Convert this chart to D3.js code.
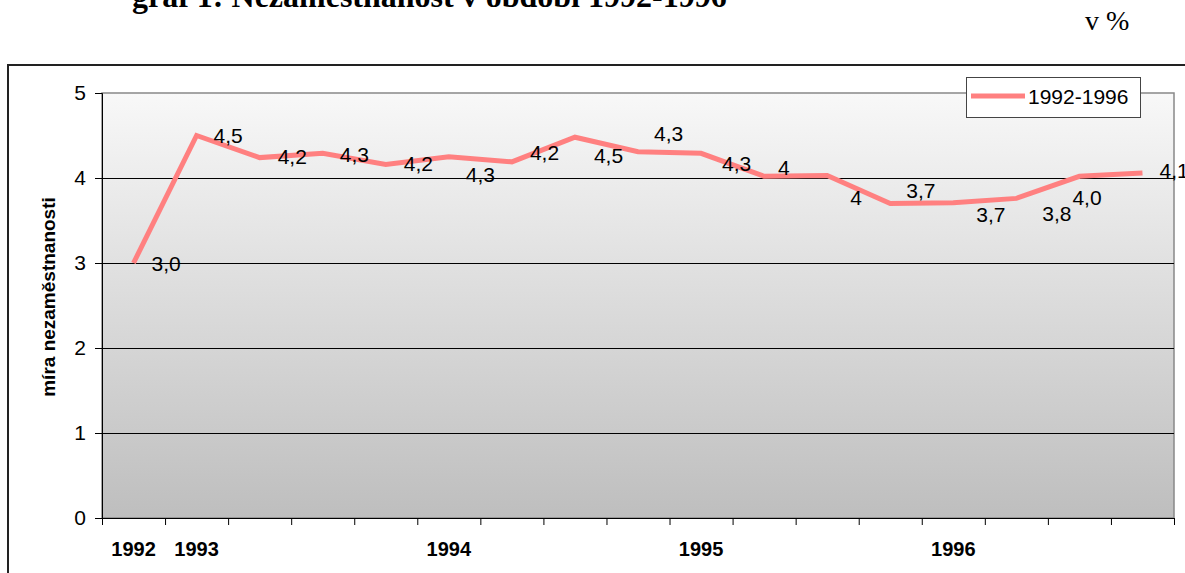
<!DOCTYPE html>
<html>
<head>
<meta charset="utf-8">
<script src="https://cdn.jsdelivr.net/npm/d3@7"></script>
<style>
    body { margin: 0; background: #fff; }
    svg text { font-family: 'Liberation Sans', Arial, sans-serif; fill: #000; }
</style>
</head>
<body>
<svg id="chart" width="1185" height="573"></svg>
<script>
'use strict';

// data (quarters 1992 Q4 .. 1996 Q4)
var categories = ['1992', '1993', '', '', '', '1994', '', '', '', '1995', '', '', '', '1996', '', '', ''];
var rates = [3.00, 4.50, 4.24, 4.29, 4.16, 4.25, 4.19, 4.48, 4.31, 4.29, 4.02, 4.03, 3.70, 3.71, 3.76, 4.02, 4.06];
var pointLabels = ['3,0', '4,5', '4,2', '4,3', '4,2', '4,3', '4,2', '4,5', '4,3', '4,3', '4', '4', '3,7', '3,7', '3,8', '4,0', '4,1'];
var yTicks = [0, 1, 2, 3, 4, 5];
var seriesName = '1992-1996';

// where each label sits relative to its point (dx, dy in px) - they are not tidy in the original
var labelOffsets = [
    [18, 1], [17, 0], [18, -1], [17, 1], [18, -1], [17, 18], [18, -9], [19, 18], [16, -18],
    [21, 10], [14, -9], [23, 22], [16, -13], [23, 12], [26, 15], [-7, 21], [17, -2]
];

var svg = d3.select('#chart');

var plot = { left: 102, right: 1174, top: 93, bottom: 518 };

var x = d3.scaleBand()
    .domain(d3.range(categories.length))
    .range([plot.left, plot.right])
    .padding(0);

var xEdge = d3.scaleLinear()
    .domain([0, categories.length])
    .range([plot.left, plot.right]);

var y = d3.scaleLinear()
    .domain([0, 5])
    .range([plot.bottom, plot.top]);

// title (cut off at the top in the original)
svg.append('text')
    .attr('x', 132)
    .attr('y', 7)
    .style('font-family', "'Liberation Serif', 'Times New Roman', serif")
    .style('font-weight', 'bold')
    .style('font-size', '32px')
    .text('graf 1: Nezaměstnanost v období 1992-1996');

svg.append('text')
    .attr('x', 1085)
    .attr('y', 30)
    .style('font-family', "'Liberation Serif', 'Times New Roman', serif")
    .style('font-size', '28px')
    .text('v %');

// outer chart frame
svg.append('rect')
    .attr('x', 8)
    .attr('y', 65)
    .attr('width', 1300)
    .attr('height', 700)
    .attr('fill', 'none')
    .attr('stroke', '#222')
    .attr('stroke-width', 2);

var defs = svg.append('defs');
var grad = defs.append('linearGradient')
    .attr('id', 'plotFill')
    .attr('x1', 0).attr('y1', 0)
    .attr('x2', 0).attr('y2', 1);
grad.append('stop').attr('offset', '0%').attr('stop-color', '#f8f8f8');
grad.append('stop').attr('offset', '100%').attr('stop-color', '#bebebe');

svg.append('rect')
    .attr('x', plot.left)
    .attr('y', plot.top)
    .attr('width', plot.right - plot.left)
    .attr('height', plot.bottom - plot.top)
    .attr('fill', 'url(#plotFill)')
    .attr('stroke', '#888')
    .attr('stroke-width', 1.5);

// gridlines
svg.append('g')
    .selectAll('line')
    .data(yTicks.filter(function (d) { return d > 0 && d < 5; }))
    .enter().append('line')
        .attr('x1', plot.left)
        .attr('x2', plot.right)
        .attr('y1', function (d) { return Math.round(y(d)) + 0.5; })
        .attr('y2', function (d) { return Math.round(y(d)) + 0.5; })
        .attr('stroke', '#000')
        .attr('stroke-width', 1);

// y axis
var yAxis = svg.append('g')
    .attr('transform', 'translate(' + plot.left + ',0)')
    .call(d3.axisLeft(y).tickValues(yTicks).tickSize(7).tickPadding(9).tickFormat(d3.format('d')));
yAxis.select('.domain').attr('stroke', '#000');
yAxis.selectAll('.tick line').attr('stroke', '#000');
yAxis.selectAll('text')
    .style('font-size', '21px')
    .style('font-family', "'Liberation Sans', Arial, sans-serif")
    .attr('fill', '#000');

// x axis: tick marks between categories
var xAxis = svg.append('g')
    .attr('transform', 'translate(0,' + plot.bottom + ')')
    .call(d3.axisBottom(xEdge).tickValues(d3.range(categories.length + 1)).tickSize(7).tickFormat(''));
xAxis.select('.domain').attr('stroke', '#000');
xAxis.selectAll('.tick line').attr('stroke', '#000');

svg.append('g')
    .selectAll('text')
    .data(categories)
    .enter().append('text')
        .attr('x', function (d, i) { return x(i) + x.bandwidth() / 2; })
        .attr('y', 556)
        .attr('text-anchor', 'middle')
        .style('font-size', '20px')
        .style('font-weight', 'bold')
        .text(function (d) { return d; });

// axis title
svg.append('text')
    .attr('transform', 'translate(55,297) rotate(-90)')
    .attr('text-anchor', 'middle')
    .style('font-size', '19px')
    .style('font-weight', 'bold')
    .text('míra nezaměstnanosti');

// the series
var line = d3.line()
    .x(function (d, i) { return x(i) + x.bandwidth() / 2; })
    .y(function (d) { return y(d); });

svg.append('path')
    .datum(rates)
    .attr('d', line)
    .attr('fill', 'none')
    .attr('stroke', '#ff8080')
    .attr('stroke-width', 5)
    .attr('stroke-linejoin', 'miter');

svg.append('g')
    .selectAll('text')
    .data(rates)
    .enter().append('text')
        .attr('x', function (d, i) { return x(i) + x.bandwidth() / 2 + labelOffsets[i][0]; })
        .attr('y', function (d, i) { return y(d) + labelOffsets[i][1]; })
        .attr('dy', '0.35em')
        .style('font-size', '21px')
        .text(function (d, i) { return pointLabels[i]; });

// legend
var legend = svg.append('g');
legend.append('rect')
    .attr('x', 966.5)
    .attr('y', 77.5)
    .attr('width', 174)
    .attr('height', 40)
    .attr('fill', '#fff')
    .attr('stroke', '#444')
    .attr('stroke-width', 1);
legend.append('line')
    .attr('x1', 971)
    .attr('x2', 1025)
    .attr('y1', 96)
    .attr('y2', 96)
    .attr('stroke', '#ff8080')
    .attr('stroke-width', 5);
legend.append('text')
    .attr('x', 1028)
    .attr('y', 104)
    .style('font-size', '21px')
    .text(seriesName);
</script>
</body>
</html>
